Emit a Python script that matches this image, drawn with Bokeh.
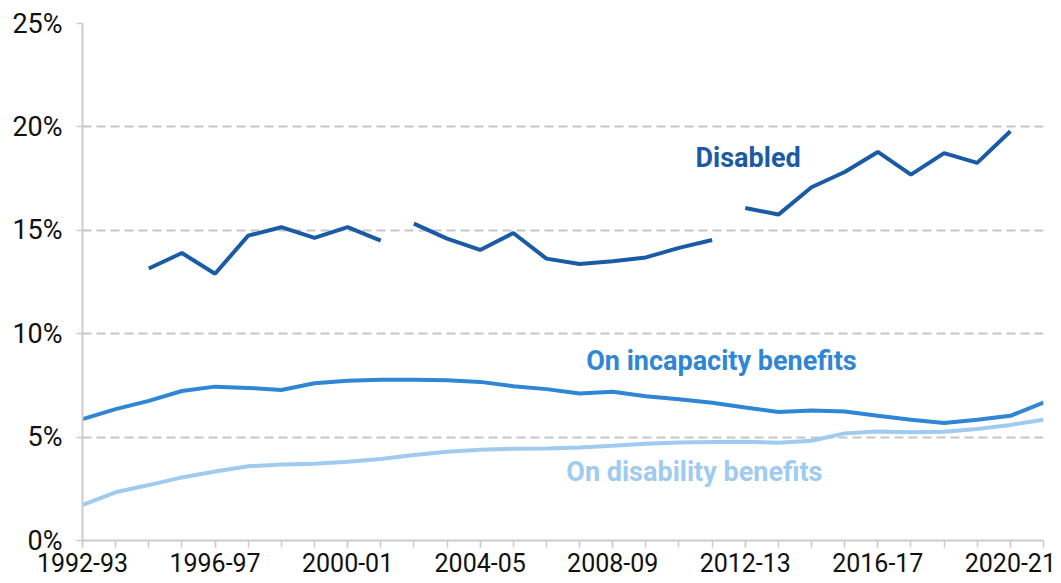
from bokeh.plotting import figure
from bokeh.models import FixedTicker, Range1d
from bokeh.core.properties import value
from bokeh.embed import file_html
from bokeh.resources import INLINE

years = ["1992-93", "1993-94", "1994-95", "1995-96", "1996-97", "1997-98",
         "1998-99", "1999-00", "2000-01", "2001-02", "2002-03", "2003-04",
         "2004-05", "2005-06", "2006-07", "2007-08", "2008-09", "2009-10",
         "2010-11", "2011-12", "2012-13", "2013-14", "2014-15", "2015-16",
         "2016-17", "2017-18", "2018-19", "2019-20", "2020-21", "2021-22"]

# Disabled (FRS definition changes in 2002-03 and 2012-13 -> three segments)
disabled_years_1 = years[2:10]
disabled_1 = [13.15, 13.90, 12.90, 14.74, 15.15, 14.63, 15.15, 14.50]
disabled_years_2 = years[10:20]
disabled_2 = [15.32, 14.60, 14.05, 14.87, 13.63, 13.37, 13.50, 13.69, 14.15, 14.53]
disabled_years_3 = years[20:29]
disabled_3 = [16.08, 15.76, 17.08, 17.82, 18.79, 17.69, 18.73, 18.26, 19.79]

incapacity = [5.87, 6.35, 6.75, 7.23, 7.44, 7.38, 7.28, 7.60, 7.73, 7.77,
              7.77, 7.75, 7.67, 7.46, 7.32, 7.11, 7.19, 6.98, 6.83, 6.66,
              6.43, 6.21, 6.29, 6.24, 6.03, 5.84, 5.68, 5.84, 6.03, 6.67]

disability = [1.72, 2.33, 2.68, 3.05, 3.34, 3.59, 3.67, 3.71, 3.81, 3.94,
              4.13, 4.29, 4.39, 4.44, 4.45, 4.50, 4.58, 4.68, 4.74, 4.76,
              4.77, 4.73, 4.82, 5.18, 5.27, 5.23, 5.26, 5.39, 5.59, 5.84]

y_ticks = [0, 5, 10, 15, 20, 25]
x_label_every = 4

C_DIS = "#1b5aa5"
C_INC = "#2f86d5"
C_BEN = "#9ecbef"
FONT = "Roboto"

idx = {y: i for i, y in enumerate(years)}

p = figure(output_backend="svg", toolbar_location=None,
           frame_width=961, frame_height=517,
           min_border_left=82, min_border_right=18,
           min_border_top=23, min_border_bottom=0,
           x_range=Range1d(0, len(years) - 1), y_range=Range1d(0, 25))
p.outline_line_color = None
p.background_fill_color = "white"
p.border_fill_color = "white"

# lines
p.line([idx[y] for y in years], disability, line_color=C_BEN, line_width=4)
p.line([idx[y] for y in years], incapacity, line_color=C_INC, line_width=4)
for ys, vals in [(disabled_years_1, disabled_1), (disabled_years_2, disabled_2),
                 (disabled_years_3, disabled_3)]:
    p.line([idx[y] for y in ys], vals, line_color=C_DIS, line_width=4)

# labels
p.text(x=[18.5], y=[18.5], text=["Disabled"], text_color=C_DIS,
       text_font=value(FONT), text_font_style="bold", text_font_size="27px",
       text_baseline="alphabetic", text_align="left")
p.text(x=[15.2], y=[8.7], text=["On incapacity benefits"], text_color=C_INC,
       text_font=value(FONT), text_font_style="bold", text_font_size="27px",
       text_baseline="alphabetic", text_align="left")
p.text(x=[14.6], y=[3.3], text=["On disability benefits"], text_color=C_BEN,
       text_font=value(FONT), text_font_style="bold", text_font_size="27px",
       text_baseline="alphabetic", text_align="left")

# x axis
xa = p.xaxis[0]
major = list(range(0, len(years), x_label_every))
xa.ticker = FixedTicker(ticks=major, minor_ticks=list(range(len(years))))
xa.major_label_overrides = {i: years[i] for i in major}
xa.axis_line_color = "#cccccc"
xa.axis_line_width = 2
xa.major_tick_line_color = "#cccccc"
xa.minor_tick_line_color = "#cccccc"
xa.major_tick_line_width = 1.5
xa.minor_tick_line_width = 1.5
xa.major_tick_out = 7
xa.major_tick_in = 0
xa.minor_tick_out = 7
xa.minor_tick_in = 0
xa.major_label_text_font = FONT
xa.major_label_text_font_size = "25px"
xa.major_label_text_color = "#111111"
xa.major_label_standoff = 5

# y axis
ya = p.yaxis[0]
ya.ticker = FixedTicker(ticks=y_ticks)
ya.major_label_overrides = {t: f"{t}%" for t in y_ticks}
ya.axis_line_color = "#cccccc"
ya.axis_line_width = 2
ya.major_tick_line_color = "#cccccc"
ya.major_tick_line_width = 1.5
ya.major_tick_out = 6
ya.major_tick_in = 0
ya.minor_tick_line_color = None
ya.major_label_text_font = FONT
ya.major_label_text_font_size = "27px"
ya.major_label_text_color = "#111111"
ya.major_label_standoff = 14

p.xgrid.grid_line_color = None
p.ygrid.ticker = FixedTicker(ticks=[5, 10, 15, 20, 25])
p.ygrid.grid_line_color = "#c6c6c6"
p.ygrid.grid_line_width = 2
p.ygrid.grid_line_dash = "9 5"

open("out.html", "w").write(file_html(p, INLINE))
